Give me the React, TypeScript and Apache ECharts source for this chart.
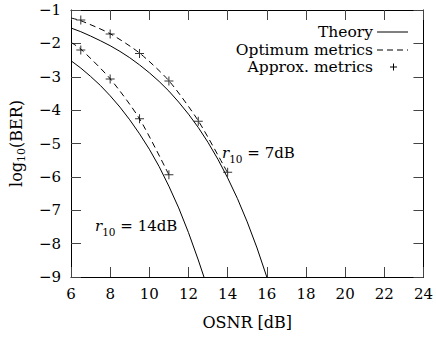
import React, { useEffect, useRef } from 'react';
import * as echarts from 'echarts';

const theory7X = [6, 6.5, 7, 7.5, 8, 8.5, 9, 9.5, 10, 10.5, 11, 11.5, 12, 12.5, 13, 13.5, 14, 14.5, 15, 15.5, 16];
const theory7Y = [-1.54, -1.65, -1.78, -1.92, -2.07, -2.24, -2.43, -2.645, -2.88, -3.14, -3.43, -3.76, -4.12, -4.52, -4.97, -5.47, -6.03, -6.65, -7.35, -8.13, -9.0];
const theory14X = [6, 6.5, 7, 7.5, 8, 8.5, 9, 9.5, 10, 10.5, 11, 11.5, 12, 12.5, 12.79];
const theory14Y = [-2.52, -2.74, -2.99, -3.26, -3.57, -3.91, -4.29, -4.71, -5.17, -5.69, -6.28, -6.93, -7.67, -8.49, -9.0];

const opt7X = [6, 6.5, 8, 9.5, 11, 12.5, 14];
const opt7Y = [-1.24, -1.32, -1.71, -2.29, -3.12, -4.32, -5.88];
const opt14X = [6, 6.5, 8, 9.5, 11];
const opt14Y = [-1.97, -2.17, -3.06, -4.26, -5.94];

const approx7X = [6.5, 8, 9.5, 11, 12.5, 14];
const approx7Y = [-1.3, -1.72, -2.3, -3.13, -4.33, -5.86];
const approx14X = [6.5, 8, 9.5, 11];
const approx14Y = [-2.2, -3.07, -4.26, -5.94];

const xTicks = { min: 6, max: 24, interval: 2 };
const yTicks = { min: -9, max: -1, interval: 1 };

const legendLabels = ['Theory', 'Optimum metrics', 'Approx. metrics'];

const zip = (xs: number[], ys: number[]) => xs.map((x, i) => [x, ys[i]]);

const FONT = 'DejaVu Serif';
const PLUS = 'path://M4,0h1v4h4v1h-4v4h-1v-4h-4v-1h4z';

export default function App() {
  const ref = useRef<HTMLDivElement>(null);
  useEffect(() => {
    if (!ref.current) return;
    const chart = echarts.init(ref.current, undefined, { renderer: 'svg' });
    const minus = (v: number) => String(v).replace('-', '\u2212');
    const tickStyle = { inside: true, length: 10, lineStyle: { color: '#444', width: 1 } };
    const lineSeries = (name: string, data: number[][], dashed: boolean, smooth: number | boolean) => ({
      type: 'line',
      name,
      data,
      symbol: 'none',
      smooth,
      lineStyle: { color: '#000', width: 1, type: dashed ? [6, 4] : 'solid' },
      xAxisIndex: 0,
      yAxisIndex: 0,
      z: 3,
    });
    const scatterSeries = (name: string, data: number[][]) => ({
      type: 'scatter',
      name,
      data,
      symbol: PLUS,
      symbolSize: 9,
      itemStyle: { color: '#000' },
      xAxisIndex: 0,
      yAxisIndex: 0,
      z: 4,
    });
    const legendX = 373;
    const legendYs = [32, 50, 67];
    const subRich = {
      i: { fontFamily: FONT, fontStyle: 'italic', fontSize: 15, fill: '#000', lineHeight: 22, verticalAlign: 'middle' },
      s: { fontFamily: FONT, fontSize: 10.5, fill: '#000', lineHeight: 22, verticalAlign: 'bottom' },
      n: { fontFamily: FONT, fontSize: 15, fill: '#000', lineHeight: 22, verticalAlign: 'middle' },
    };
    chart.setOption({
      animation: false,
      grid: { left: 65, top: 10, right: 9, bottom: 61 },
      xAxis: [
        {
          type: 'value',
          ...xTicks,
          position: 'bottom',
          axisLine: { show: true, lineStyle: { color: '#000', width: 1 } },
          axisTick: tickStyle,
          splitLine: { show: false },
          axisLabel: { color: '#000', fontFamily: FONT, fontSize: 15, margin: 9 },
          name: 'OSNR [dB]',
          nameLocation: 'middle',
          nameGap: 37,
          nameTextStyle: { color: '#000', fontFamily: FONT, fontSize: 16 },
        },
        {
          type: 'value',
          ...xTicks,
          position: 'top',
          axisLine: { show: true, lineStyle: { color: '#000', width: 1 } },
          axisTick: tickStyle,
          splitLine: { show: false },
          axisLabel: { show: false },
        },
      ],
      yAxis: [
        {
          type: 'value',
          ...yTicks,
          position: 'left',
          axisLine: { show: true, lineStyle: { color: '#000', width: 1 } },
          axisTick: tickStyle,
          splitLine: { show: false },
          axisLabel: { color: '#000', fontFamily: FONT, fontSize: 15, margin: 10, formatter: minus },
          name: '{a|log}{b|10}{a|(BER)}',
          nameLocation: 'middle',
          nameGap: 44,
          nameTextStyle: {
            color: '#000',
            rich: {
              a: { fontFamily: FONT, fontSize: 16, color: '#000', lineHeight: 22, verticalAlign: 'middle' },
              b: { fontFamily: FONT, fontSize: 11, color: '#000', lineHeight: 22, verticalAlign: 'bottom' },
            },
          },
        },
        {
          type: 'value',
          ...yTicks,
          position: 'right',
          axisLine: { show: true, lineStyle: { color: '#000', width: 1 } },
          axisTick: tickStyle,
          splitLine: { show: false },
          axisLabel: { show: false },
        },
      ],
      series: [
        lineSeries('theory7', zip(theory7X, theory7Y), false, false),
        lineSeries('theory14', zip(theory14X, theory14Y), false, false),
        lineSeries('opt7', zip(opt7X, opt7Y), true, 0.25),
        lineSeries('opt14', zip(opt14X, opt14Y), true, 0.25),
        scatterSeries('approx7', zip(approx7X, approx7Y)),
        scatterSeries('approx14', zip(approx14X, approx14Y)),
      ],
      graphic: [
        ...legendLabels.map((t, i) => ({
          type: 'text',
          x: legendX,
          y: legendYs[i],
          style: { text: t, fontFamily: FONT, fontSize: 15.5, lineHeight: 16, fill: '#000', align: 'right', verticalAlign: 'middle' },
        })),
        { type: 'line', shape: { x1: 377, y1: legendYs[0], x2: 408, y2: legendYs[0] }, style: { stroke: '#000', lineWidth: 1 } },
        { type: 'line', shape: { x1: 377, y1: legendYs[1], x2: 408, y2: legendYs[1] }, style: { stroke: '#000', lineWidth: 1, lineDash: [6, 4] } },
        { type: 'line', shape: { x1: 393.5, y1: legendYs[2] - 3.5, x2: 393.5, y2: legendYs[2] + 3.5 }, style: { stroke: '#000', lineWidth: 1 } },
        { type: 'line', shape: { x1: 390, y1: legendYs[2], x2: 397, y2: legendYs[2] }, style: { stroke: '#000', lineWidth: 1 } },
        {
          type: 'text',
          x: 95,
          y: 226,
          style: { text: '{i|r}{s|10}{n| = 14dB}', verticalAlign: 'middle', rich: subRich },
        },
        {
          type: 'text',
          x: 222,
          y: 153,
          style: { text: '{i|r}{s|10}{n| = 7dB}', verticalAlign: 'middle', rich: subRich },
        },
      ],
    });
    return () => chart.dispose();
  }, []);
  return <div ref={ref} style={{ position: 'fixed', left: 0, top: 0, width: 436, height: 338, background: '#fff' }} />;
}
